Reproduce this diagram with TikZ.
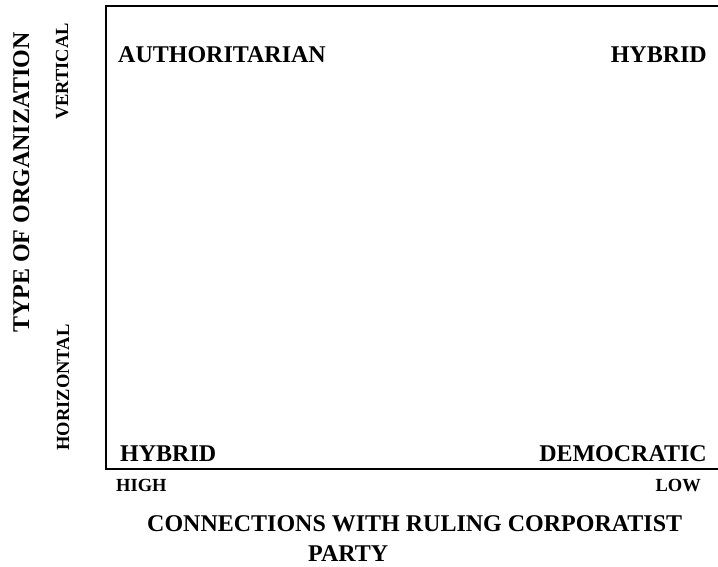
\documentclass[tikz,border=0pt]{standalone}
\usepackage{fontspec}
\setmainfont{Liberation Serif}
\usetikzlibrary{positioning}

\begin{document}
\begin{tikzpicture}[x=1pt, y=1pt,
                    every node/.style = {inner sep=0pt, font=\bfseries},
                    quadrant/.style = {font=\fontsize{24}{28}\selectfont\bfseries},
                    axistitle/.style = {font=\fontsize{24}{28}\selectfont\bfseries},
                    endlabel/.style = {font=\fontsize{18.5}{22}\selectfont\bfseries}]
  \useasboundingbox (0,0) rectangle (718,567);
  % frame: open on the right
  \coordinate (tr) at (718,561);
  \coordinate (tl) at (106,561);
  \coordinate (bl) at (106,98);
  \coordinate (br) at (718,98);
  \draw[line width=2pt] (tr) -- (tl) -- (bl) -- (br);
  % the four corners
  \node[quadrant, anchor=base west] (auth) at (118,504.5) {AUTHORITARIAN};
  \node[quadrant, anchor=base east] (hybtop) at (707,504.5) {HYBRID};
  \node[quadrant, anchor=base west] (hybbot) at (120,105) {HYBRID};
  \node[quadrant, anchor=base east] (demo) at (707,105) {DEMOCRATIC};
  % x axis
  \node[endlabel, anchor=base west] (high) at (116,75) {HIGH};
  \node[endlabel, anchor=base east] (low) at (701,75) {LOW};
  \node[axistitle, anchor=base west] (xtitle) at (147,35) {CONNECTIONS WITH RULING CORPORATIST};
  \node[axistitle, anchor=base west] (xtitle2) at (308,5) {PARTY};
  % y axis
  \node[axistitle, rotate=90, anchor=base] (ytitle) at (29,384.5) {TYPE OF ORGANIZATION};
  \node[endlabel, rotate=90, anchor=base] (vert) at (68,495.5) {VERTICAL};
  \node[endlabel, rotate=90, anchor=base] (horiz) at (69,179.5) {HORIZONTAL};
\end{tikzpicture}
\end{document}
